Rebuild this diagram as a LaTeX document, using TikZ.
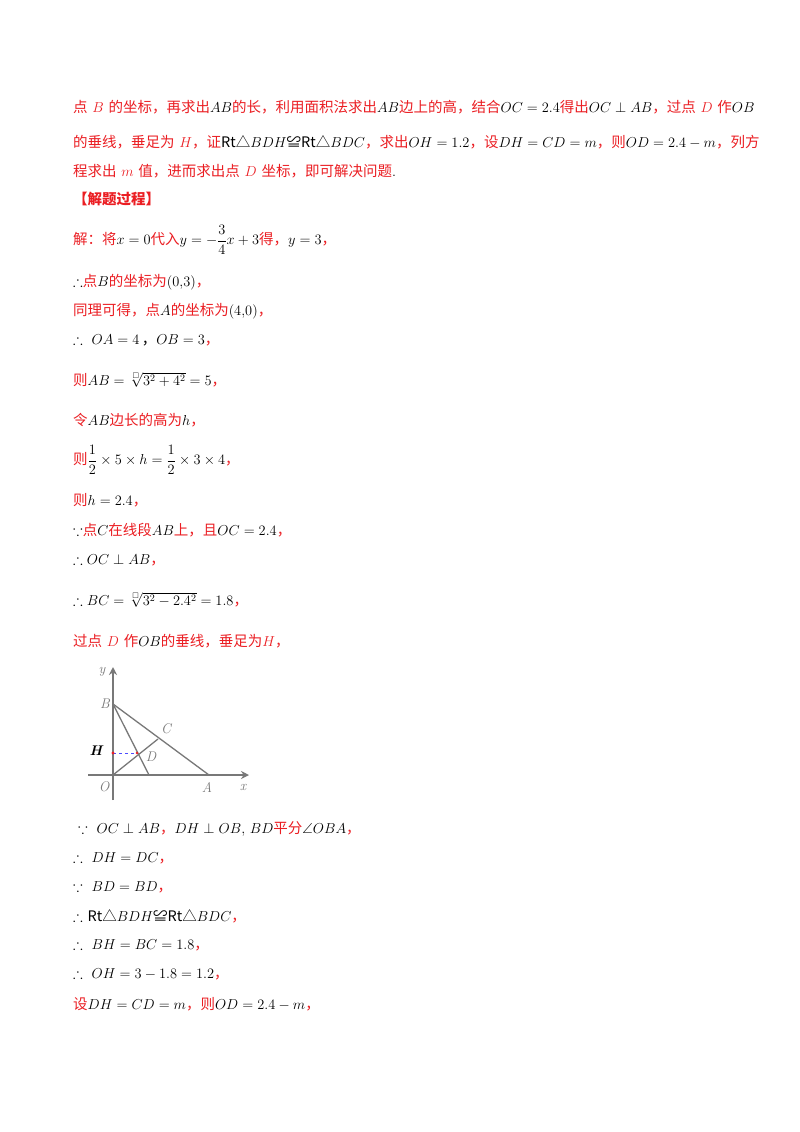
\documentclass[tikz,border=0pt]{standalone}
\usetikzlibrary{arrows.meta}
\usepackage{amsmath,amssymb}
\usepackage{fontspec}
\newfontfamily\cjk{Noto Sans CJK SC}
\definecolor{rd}{RGB}{235,30,35}
\definecolor{gr}{RGB}{120,120,120}
\newcommand{\R}[1]{{\color{rd}\cjk #1}}
\newcommand{\Rm}[1]{{\color{rd}$#1$}}
\begin{document}
\begin{tikzpicture}[x=1pt,y=-1pt,
  ln/.style={anchor=west,inner sep=0pt,font=\fontsize{14.5}{16}\selectfont},
  ax/.style={gr,line width=1.6pt,-{Stealth[length=8pt,width=8pt]}},
  seg/.style={gr,line width=1.3pt},
  lb/.style={gr,font=\fontsize{14}{16}\selectfont\itshape,inner sep=0pt}]
\useasboundingbox[fill=white] (0,0) rectangle (800,1132);
\node[ln] (l1) at (73,107) {\R{点} \Rm{B} \R{的坐标，再求出}$AB$\R{的长，利用面积法求出}$AB$\R{边上的高，结合}$OC=2.4$\R{得出}$OC\perp AB$\R{，过点} \Rm{D} \R{作}$OB$};
\node[ln] (l2) at (73,142) {\R{的垂线，垂足为} \Rm{H}\R{，证}{\cjk Rt△}$BDH${\cjk ≌}{\cjk Rt△}$BDC$\R{，求出}$OH=1.2$\R{，设}$DH=CD=m$\R{，则}$OD=2.4-m$\R{，列方}};
\node[ln] (l3) at (73,171) {\R{程求出} \Rm{m} \R{值，进而求出点} \Rm{D} \R{坐标，即可解决问题}.};
\node[ln] (l4) at (73,199) {{\color{rd}\cjk\bfseries 【解题过程】}};
\node[ln] (l5) at (73,240) {\R{解：将}$x=0$\R{代入}$y=-\dfrac{3}{4}x+3$\R{得，}$y=3$\R{，}};
\node[ln] (l6) at (73,282) {$\therefore$\R{点}$B$\R{的坐标为}$\left(0{,}3\right)$\R{，}};
\node[ln] (l7) at (73,311) {\R{同理可得，点}$A$\R{的坐标为}$\left(4{,}0\right)$\R{，}};
\node[ln] (l8) at (73,340) {$\therefore\ OA=4$\,{\cjk ，}$OB=3$\R{，}};
\node[ln] (l9) at (73,380) {\R{则}$AB=\sqrt[\scriptscriptstyle\square]{3^2+4^2}=5$\R{，}};
\node[ln] (l10) at (73,420) {\R{令}$AB$\R{边长的高为}$h$\R{，}};
\node[ln] (l11) at (73,460) {\R{则}$\dfrac{1}{2}\times5\times h=\dfrac{1}{2}\times3\times4$\R{，}};
\node[ln] (l12) at (73,500) {\R{则}$h=2.4$\R{，}};
\node[ln] (l13) at (73,530) {$\because$\R{点}$C$\R{在线段}$AB$\R{上，且}$OC=2.4$\R{，}};
\node[ln] (l14) at (73,560) {$\therefore OC\perp AB$\R{，}};
\node[ln] (l15) at (73,600) {$\therefore BC=\sqrt[\scriptscriptstyle\square]{3^2-2.4^2}=1.8$\R{，}};
\node[ln] (l16) at (73,641) {\R{过点} \Rm{D} \R{作}$OB$\R{的垂线，垂足为}\Rm{H}\R{，}};
\node[ln] (l17) at (78,829) {$\because\ OC\perp AB$\R{，}$DH\perp OB$, $BD$\R{平分}$\angle OBA$\R{，}};
\node[ln] (l18) at (73,858) {$\therefore\ DH=DC$\R{，}};
\node[ln] (l19) at (73,887) {$\because\ BD=BD$\R{，}};
\node[ln] (l20) at (73,916) {$\therefore$ {\cjk Rt△}$BDH${\cjk ≌}{\cjk Rt△}$BDC$\R{，}};
\node[ln] (l21) at (73,945) {$\therefore\ BH=BC=1.8$\R{，}};
\node[ln] (l22) at (73,974) {$\therefore\ OH=3-1.8=1.2$\R{，}};
\node[ln] (l23) at (73,1004) {\R{设}$DH=CD=m$\R{，则}$OD=2.4-m$\R{，}};
% figure
\coordinate (O) at (113,775);
\coordinate (B) at (113,704);
\coordinate (A) at (209,775);
\coordinate (C) at (158,739);
\coordinate (D) at (137,753);
\coordinate (E) at (149,775);
\coordinate (H) at (113,753);
\coordinate (xe) at (249,775);
\coordinate (ye) at (113,667);
\draw[ax] (88,775) -- (xe);
\draw[ax] (113,800) -- (ye);
\draw[seg] (B) -- (A);
\draw[seg] (B) -- (E);
\draw[seg] (O) -- (C);
\draw[blue!70!white,dashed,line width=0.9pt] (H) -- (D);
\fill[rd] (H) circle (1.6pt);
\fill[rd] (D) circle (1.4pt);
\node[lb] (ly) at (102,672) {y};
\node[lb] (lB) at (105,704) {B};
\node[lb] (lC) at (166,729) {C};
\node[font=\fontsize{14}{16}\selectfont\bfseries\itshape,inner sep=0pt] (lH) at (96,751) {H};
\node[lb] (lD) at (151,757) {D};
\node[lb] (lO) at (104,787) {O};
\node[lb] (lA) at (207,787) {A};
\node[lb] (lx) at (243,787) {x};
\end{tikzpicture}
\end{document}
